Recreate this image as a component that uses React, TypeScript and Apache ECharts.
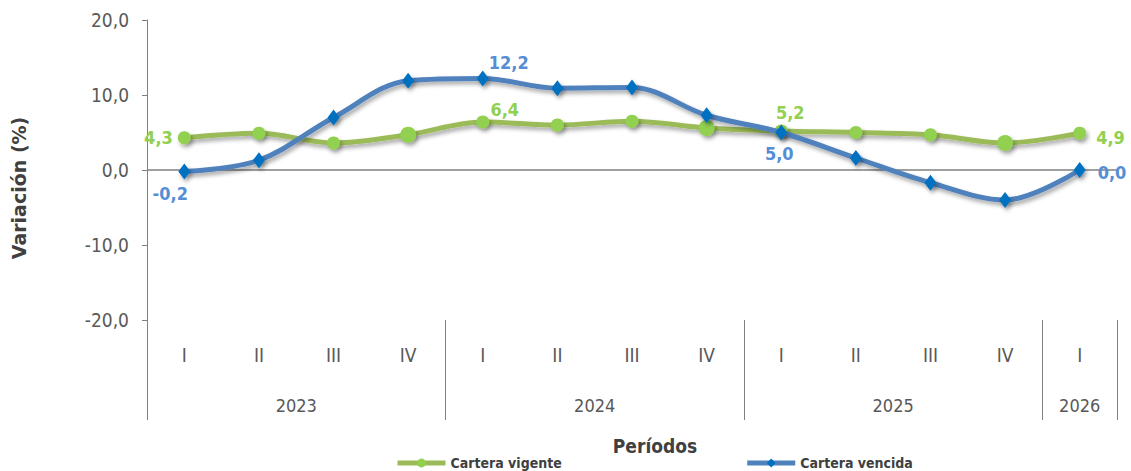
import React, { useEffect, useRef } from "react";
import * as echarts from "echarts";

const quarters = ["I", "II", "III", "IV", "I", "II", "III", "IV", "I", "II", "III", "IV", "I"];
const years = ["2023", "2024", "2025", "2026"];
const yearCenters = [2, 6, 10, 12.5];
const yearBounds = [0, 4, 8, 12, 13];
const vigente = [4.3, 4.9, 3.6, 4.7, 6.4, 6.0, 6.5, 5.6, 5.2, 5.0, 4.7, 3.6, 4.9];
const vencida = [-0.2, 1.3, 7.0, 11.9, 12.2, 10.9, 11.0, 7.3, 5.0, 1.6, -1.7, -4.0, 0.0];
const yTicks = [-20, -10, 0, 10, 20];

const NARROW = "'Liberation Sans Narrow', 'DejaVu Sans Condensed', sans-serif";
const fmt = (v: number) => v.toFixed(1).replace(".", ",");

export default function App() {
  const ref = useRef<HTMLDivElement>(null);
  useEffect(() => {
    if (!ref.current) return;
    const chart = echarts.init(ref.current, undefined, { renderer: "svg" });

    const greenLabelCfg: Record<number, any> = {
      0: { position: "left", offset: [0, 0] },
      4: { position: "top", offset: [22, 8] },
      8: { position: "top", offset: [9, 2] },
      12: { position: "right", offset: [5, 4] },
    };
    const blueLabelCfg: Record<number, any> = {
      0: { position: "bottom", offset: [-14, 0] },
      4: { position: "top", offset: [26, 6] },
      8: { position: "bottom", offset: [-2, -1] },
      12: { position: "right", offset: [7, 2] },
    };
    const bigGreen = [3, 7, 11];

    const labelBase = {
      show: true,
      fontFamily: NARROW,
      fontWeight: "bold",
      fontSize: 18,
      distance: 5,
      formatter: (p: any) => fmt(p.value),
    };

    const greenData = vigente.map((v, i) => ({
      value: v,
      symbolSize: bigGreen.includes(i) ? 16 : 13,
      label: greenLabelCfg[i]
        ? { ...labelBase, color: "#92D050", ...greenLabelCfg[i] }
        : { show: false },
    }));
    const blueData = vencida.map((v, i) => ({
      value: v,
      label: blueLabelCfg[i]
        ? { ...labelBase, color: "#558ED5", ...blueLabelCfg[i] }
        : { show: false },
    }));

    const shadow = {
      shadowColor: "rgba(0,0,0,0.35)",
      shadowBlur: 4,
      shadowOffsetX: 2,
      shadowOffsetY: 3,
    };

    chart.setOption({
      animation: false,
      grid: { left: 147, right: 14, top: 20, bottom: 151, containLabel: false },
      legend: {
        left: 390,
        top: 451,
        itemWidth: 48,
        itemHeight: 11,
        itemGap: 183,
        lineStyle: { width: 5 },
        textStyle: { fontFamily: NARROW, fontWeight: "bold", fontSize: 14, color: "#404040" },
        data: ["Cartera vigente", "Cartera vencida"],
      },
      xAxis: [
        {
          type: "category",
          data: quarters,
          boundaryGap: true,
          position: "bottom",
          axisLine: { show: false },
          axisTick: { show: false },
          axisLabel: { fontFamily: NARROW, fontSize: 19, color: "#595959", margin: 25, interval: 0 },
          splitLine: { show: false },
        },
        {
          type: "value",
          min: 0,
          max: 13,
          position: "bottom",
          axisLine: { show: false },
          splitLine: { show: false },
          axisTick: {
            show: true,
            customValues: yearBounds,
            length: 100,
            lineStyle: { color: "#808080", width: 1 },
          },
          axisLabel: {
            customValues: yearCenters,
            fontFamily: NARROW,
            fontSize: 18,
            color: "#595959",
            margin: 76,
            formatter: (v: number) => {
              const idx = yearCenters.indexOf(v);
              return idx >= 0 ? years[idx] : "";
            },
          },
        },
      ],
      yAxis: {
        type: "value",
        min: yTicks[0],
        max: yTicks[yTicks.length - 1],
        interval: 10,
        axisLine: { show: true, onZero: false, lineStyle: { color: "#808080", width: 1 } },
        axisTick: { show: true, length: 5, lineStyle: { color: "#808080" } },
        splitLine: { show: false },
        axisLabel: { fontFamily: NARROW, fontSize: 19, color: "#595959", margin: 18, formatter: (v: number) => fmt(v) },
      },
      series: [
        {
          name: "Cartera vigente",
          type: "line",
          data: greenData,
          smooth: 0.35,
          symbol: "circle",
          symbolSize: 13,
          lineStyle: { color: "#9BBB59", width: 5, ...shadow },
          itemStyle: { color: "#92D050", ...shadow },
          markLine: {
            silent: true,
            symbol: "none",
            label: { show: false },
            lineStyle: { color: "#808080", width: 1.5, type: "solid" },
            data: [{ yAxis: 0 }],
            z: 1,
          },
          z: 3,
        },
        {
          name: "Cartera vencida",
          type: "line",
          data: blueData,
          smooth: 0.35,
          symbol: "diamond",
          symbolSize: [12, 16],
          lineStyle: { color: "#4F81BD", width: 5, ...shadow },
          itemStyle: { color: "#0070C0", ...shadow },
          z: 4,
        },
      ],
      graphic: [
        {
          type: "text",
          x: 19,
          y: 188,
          rotation: Math.PI / 2,
          style: {
            text: "Variación (%)",
            fontFamily: "'DejaVu Sans', sans-serif",
            fontWeight: "bold",
            fontSize: 19,
            fill: "#404040",
            align: "center",
            verticalAlign: "middle",
          },
        },
        {
          type: "text",
          x: 655,
          y: 446,
          style: {
            text: "Períodos",
            fontFamily: NARROW,
            fontWeight: "bold",
            fontSize: 19,
            fill: "#404040",
            align: "center",
            verticalAlign: "middle",
          },
        },
      ],
    });
    return () => chart.dispose();
  }, []);
  return (
    <div
      ref={ref}
      style={{ position: "fixed", left: 0, top: 0, width: 1131, height: 471, background: "#fff" }}
    />
  );
}
